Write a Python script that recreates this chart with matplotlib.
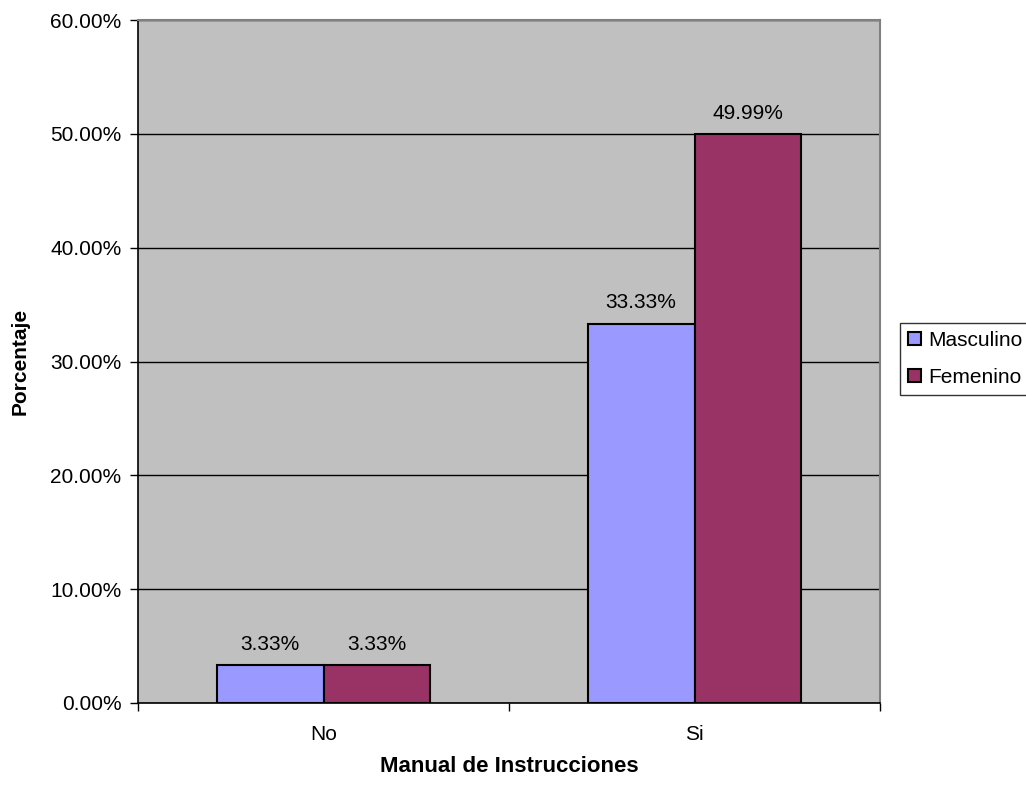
import matplotlib
matplotlib.use("Agg")
import matplotlib.pyplot as plt
import numpy as np

categories = ["No", "Si"]
series_names = ["Masculino", "Femenino"]
masculino = [3.33, 33.33]
femenino = [3.33, 49.99]
series_colors = ["#9999FF", "#993366"]
y_ticks = [0, 10, 20, 30, 40, 50, 60]

plt.rcParams["font.family"] = ["Liberation Sans", "DejaVu Sans"]
FS = 15

fig = plt.figure(figsize=(10.26, 7.86), dpi=100)
ax = fig.add_axes([138 / 1026, 1 - 703 / 786, (880 - 138) / 1026, (703 - 20) / 786])
ax.set_facecolor("#C0C0C0")

x = np.arange(len(categories))
w = 0.288
for i, (vals, name, col) in enumerate(zip([masculino, femenino], series_names, series_colors)):
    bars = ax.bar(x + (i - 0.5) * w, vals, width=w, color=col, edgecolor="black",
                  linewidth=1.5, label=name, zorder=3)
    ax.bar_label(bars, labels=[f"{v:.2f}%" for v in vals], padding=8, fontsize=FS)

ax.set_xlim(-0.5, len(categories) - 0.5)
ax.set_ylim(0, 60)
ax.set_yticks(y_ticks)
ax.set_yticklabels([f"{v:.2f}%" for v in y_ticks], fontsize=FS)
ax.yaxis.grid(True, color="black", linewidth=1, zorder=0)
ax.set_axisbelow(True)

# category ticks sit on the boundaries between groups
ax.set_xticks(np.arange(-0.5, len(categories), 1.0))
ax.set_xticklabels([])
ax.set_xticks(x, minor=True)
ax.set_xticklabels(categories, minor=True, fontsize=FS)
ax.tick_params(axis="x", which="minor", length=0, pad=16)
ax.tick_params(axis="x", which="major", length=6, color="black", width=1)
ax.tick_params(axis="y", length=6, color="black", width=1, pad=6)

for side in ["top", "right"]:
    ax.spines[side].set_color("#808080")
    ax.spines[side].set_linewidth(1.5)
ax.spines["left"].set_color("black")
ax.spines["bottom"].set_color("black")
ax.spines["left"].set_linewidth(1.2)
ax.spines["bottom"].set_linewidth(1.2)

fig.text(509 / 1026, 1 - 766 / 786, "Manual de Instrucciones", ha="center", va="center",
         fontsize=16, fontweight="bold")
fig.text(20 / 1026, 1 - 361 / 786, "Porcentaje", ha="center", va="center",
         rotation=90, fontsize=FS, fontweight="bold")

leg = fig.legend(loc="upper left", bbox_to_anchor=(900 / 1026, 1 - 323 / 786),
                 fontsize=FS, frameon=True, fancybox=False, handlelength=0.62,
                 handleheight=0.62, handletextpad=0.36, borderpad=0.38, labelspacing=0.85,
                 borderaxespad=0)
leg.get_frame().set_edgecolor("black")
leg.get_frame().set_linewidth(1)

fig.savefig("out.png", dpi=100)
